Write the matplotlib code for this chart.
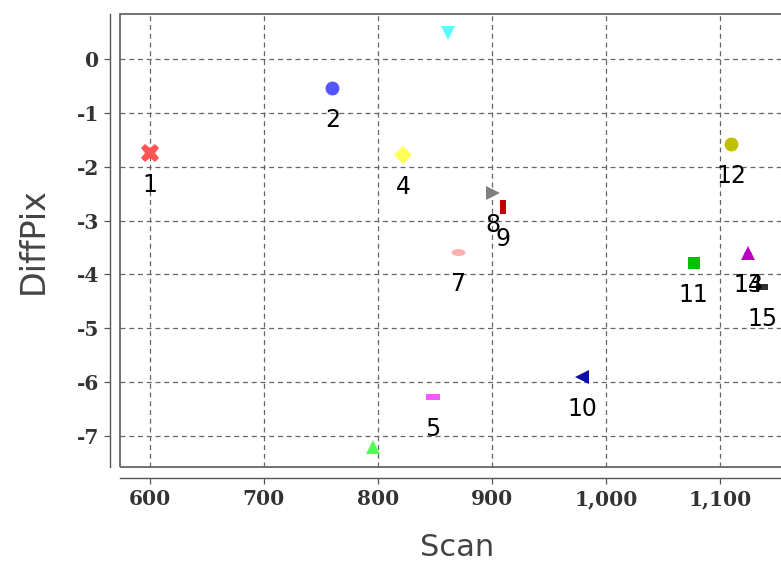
import numpy as np
import matplotlib
matplotlib.use("Agg")
import matplotlib.pyplot as plt
from matplotlib.patches import Rectangle
from matplotlib.ticker import FuncFormatter, FixedLocator

plt.rcParams["axes.unicode_minus"] = False

# -----------------------------
# data
# -----------------------------
labels = ["1", "2", "3", "4", "5", "6", "7", "8", "9", "10", "11", "12", "13", "14", "15"]
scan = [600, 760, 796, 822, 848, 861, 870, 901, 910, 979, 1077, 1110, 1125, 1125, 1137]
diffpix = [-1.75, -0.54, -7.21, -1.78, -6.28, 0.48, -3.59, -2.49, -2.75, -5.91,
           -3.79, -1.58, -3.61, -3.61, -4.24]
colors = ["#ff5555", "#5555ff", "#55ff55", "#ffff55", "#ff55ff", "#55ffff", "#ffafaf",
          "#808080", "#c00000", "#1010a0", "#00c000", "#c0c000", "#c000c0", "#00c0c0", "#303030"]

x_ticks = [600, 700, 800, 900, 1000, 1100]
y_ticks = [0, -1, -2, -3, -4, -5, -6, -7]

# marker shapes (JFreeChart style)
hrect = [(-1, -0.5), (1, -0.5), (1, 0.5), (-1, 0.5), (-1, -0.5)]
vrect = [(-0.5, -1), (0.5, -1), (0.5, 1), (-0.5, 1), (-0.5, -1)]
th = np.linspace(0, 2 * np.pi, 40)
hellipse = list(zip(np.cos(th), 0.5 * np.sin(th)))
markers = ["X", "o", "^", "D", hrect, "v", hellipse, ">", vrect, "<", "s", "o", "^", "D", hrect]
sizes = [13, 10, 10, 9, 10, 10, 10, 10, 10, 10, 9, 10, 10, 4, 8]
zorders = [3, 3, 3, 3, 3, 3, 3, 3, 3, 3, 3, 3, 4, 2, 4]

W, H = 781, 570
fig = plt.figure(figsize=(W / 100, H / 100), dpi=100)
left, right, top, bottom = 120, 790, 14, 467
ax = fig.add_axes([left / W, 1 - bottom / H, (right - left) / W, (bottom - top) / H])

ax.set_xlim(573.7, 573.7 + (right - left) / 1.14)
ax.set_ylim(-7.576, 0.836)

for xv, yv, m, c, s, z in zip(scan, diffpix, markers, colors, sizes, zorders):
    ax.plot([xv], [yv], marker=m, color=c, markersize=s, markeredgewidth=0,
            linestyle="none", zorder=z)

# item labels: above for positive values, below for negative ones
for xv, yv, lab in zip(scan, diffpix, labels):
    off = 23 if yv > 0 else -23
    ax.annotate(lab, (xv, yv), xytext=(0, off), textcoords="offset points",
                ha="center", va="center", fontsize=17, color="black",
                family="DejaVu Sans", annotation_clip=False, clip_on=True, zorder=5)

# grid + axes styling
ax.xaxis.set_major_locator(FixedLocator(x_ticks))
ax.yaxis.set_major_locator(FixedLocator(y_ticks))
ax.xaxis.set_major_formatter(FuncFormatter(lambda v, p: f"{int(v):,}"))
ax.yaxis.set_major_formatter(FuncFormatter(lambda v, p: f"{int(v)}"))
ax.grid(True, color="#666666", linestyle=(0, (4, 3)), linewidth=0.9)
ax.set_axisbelow(True)

for side in ("top", "right"):
    ax.spines[side].set_visible(False)
ax.spines["left"].set_position(("outward", 7.2))
ax.spines["bottom"].set_position(("outward", 7.9))
for side in ("left", "bottom"):
    ax.spines[side].set_color("#555555")
    ax.spines[side].set_linewidth(1.0)
ax.add_patch(Rectangle((0, 0), 1, 1, transform=ax.transAxes, fill=False,
                       edgecolor="#666666", linewidth=1.3, clip_on=False, zorder=6))

ax.tick_params(axis="both", direction="out", length=4, width=0.9, color="#555555",
               labelsize=14.5, labelcolor="#333333", pad=4)
for t in ax.get_xticklabels() + ax.get_yticklabels():
    t.set_family("DejaVu Serif")
    t.set_fontweight("bold")

fig.text(33 / W, 1 - 241 / H, "DiffPix", rotation=90, ha="center", va="center",
         fontsize=24, color="#444444", family="DejaVu Sans")
fig.text(457 / W, 1 - 547 / H, "Scan", ha="center", va="center",
         fontsize=22, color="#444444", family="DejaVu Sans")

fig.savefig("out.png", dpi=100)
